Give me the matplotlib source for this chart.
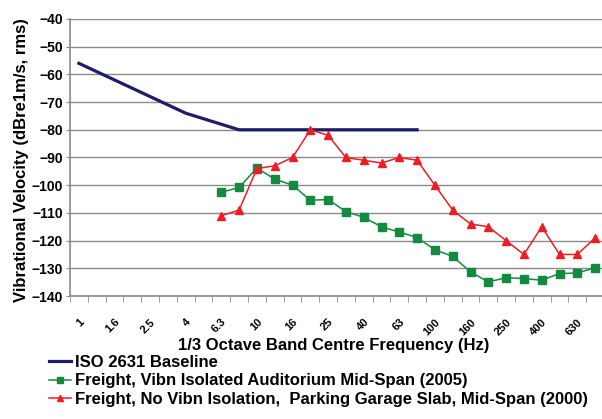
import numpy as np
import matplotlib
matplotlib.use("Agg")
import matplotlib.pyplot as plt
from matplotlib.transforms import ScaledTranslation

bands = ["1", "1.25", "1.6", "2", "2.5", "3.15", "4", "5", "6.3", "8",
         "10", "12.5", "16", "20", "25", "31.5", "40", "50", "63", "80",
         "100", "125", "160", "200", "250", "315", "400", "500", "630", "800"]

nan = np.nan
iso_baseline = [-56, -59, -62, -65, -68, -71, -74, -76, -78, -80,
                -80, -80, -80, -80, -80, -80, -80, -80, -80, -80,
                nan, nan, nan, nan, nan, nan, nan, nan, nan, nan]
isolated_2005 = [nan, nan, nan, nan, nan, nan, nan, nan, -102.6, -100.8,
                 -93.8, -97.8, -100, -105.4, -105.2, -109.5, -111.6, -115, -116.9, -118.9,
                 -123.3, -125.7, -131.3, -134.9, -133.4, -133.7, -134.3, -131.9, -131.7, -129.8]
no_isolation_2000 = [nan, nan, nan, nan, nan, nan, nan, nan, -111, -109,
                     -94, -93, -90, -80, -82, -90, -91, -92, -90, -91,
                     -100, -109, -114, -115, -120, -125, -115, -125, -125, -119]

labels = ["ISO 2631 Baseline",
          "Freight, Vibn Isolated Auditorium Mid-Span (2005)",
          "Freight, No Vibn Isolation,  Parking Garage Slab, Mid-Span (2000)"]

plt.rcParams['font.family'] = ['Liberation Sans', 'DejaVu Sans']
plt.rcParams['font.weight'] = 'bold'
plt.rcParams['axes.labelweight'] = 'bold'

fig = plt.figure(figsize=(6.02, 4.19), dpi=100)
ax = fig.add_axes([70 / 602, 1 - 296 / 419, 534 / 602, 277 / 419])

x = np.arange(len(bands))
ax.plot(x, iso_baseline, color="#1c1c6b", lw=2.3, label=labels[0], zorder=3)
ax.plot(x, isolated_2005, color="#138a3e", lw=1.1, marker="s", ms=5.5, label=labels[1], zorder=4)
ax.plot(x, no_isolation_2000, color="#ee1d25", lw=1.1, marker="^", ms=6, label=labels[2], zorder=5)

ax.set_xlim(-0.5, len(bands) - 0.5)
ax.set_ylim(-140, -40)
ax.set_yticks(np.arange(-140, -39, 10))
ax.yaxis.grid(True, color="#8a8a8a", lw=1)
ax.set_axisbelow(True)

ax.set_xticks(x[::2])
ax.set_xticklabels(bands[::2], rotation=45, ha="right", va="top", rotation_mode="anchor", fontsize=8)
shift = ScaledTranslation(-7 / 100, 0, fig.dpi_scale_trans)
for lab in ax.get_xticklabels():
    lab.set_transform(lab.get_transform() + shift)
ax.set_xticks(np.arange(-0.5, len(bands), 1), minor=True)
ax.tick_params(axis="x", which="major", length=0, pad=15)
ax.tick_params(axis="x", which="minor", length=4, color="#8a8a8a")
ax.tick_params(axis="y", length=3, color="#8a8a8a", labelsize=10, pad=2)

for s in ["top", "right"]:
    ax.spines[s].set_visible(False)
for s in ["left", "bottom"]:
    ax.spines[s].set_color("#8a8a8a")
    ax.spines[s].set_linewidth(1.2)

ax.set_xlabel("1/3 Octave Band Centre Frequency (Hz)", fontsize=12, va="center")
ax.xaxis.set_label_coords((334 - 70) / 534, (296 - 345) / 277)
ax.set_ylabel("Vibrational Velocity (dBre1m/s, rms)", fontsize=12, va="center")
ax.yaxis.set_label_coords((21.5 - 70) / 534, (296 - 160) / 277)

fig.legend(loc="upper left", bbox_to_anchor=(49 / 602, 1 - 355 / 419), frameon=False,
           fontsize=12, handlelength=1.32, handletextpad=0.24, labelspacing=0.2,
           borderaxespad=0, borderpad=0, markerscale=0.8)

fig.savefig("out.png", dpi=100)
